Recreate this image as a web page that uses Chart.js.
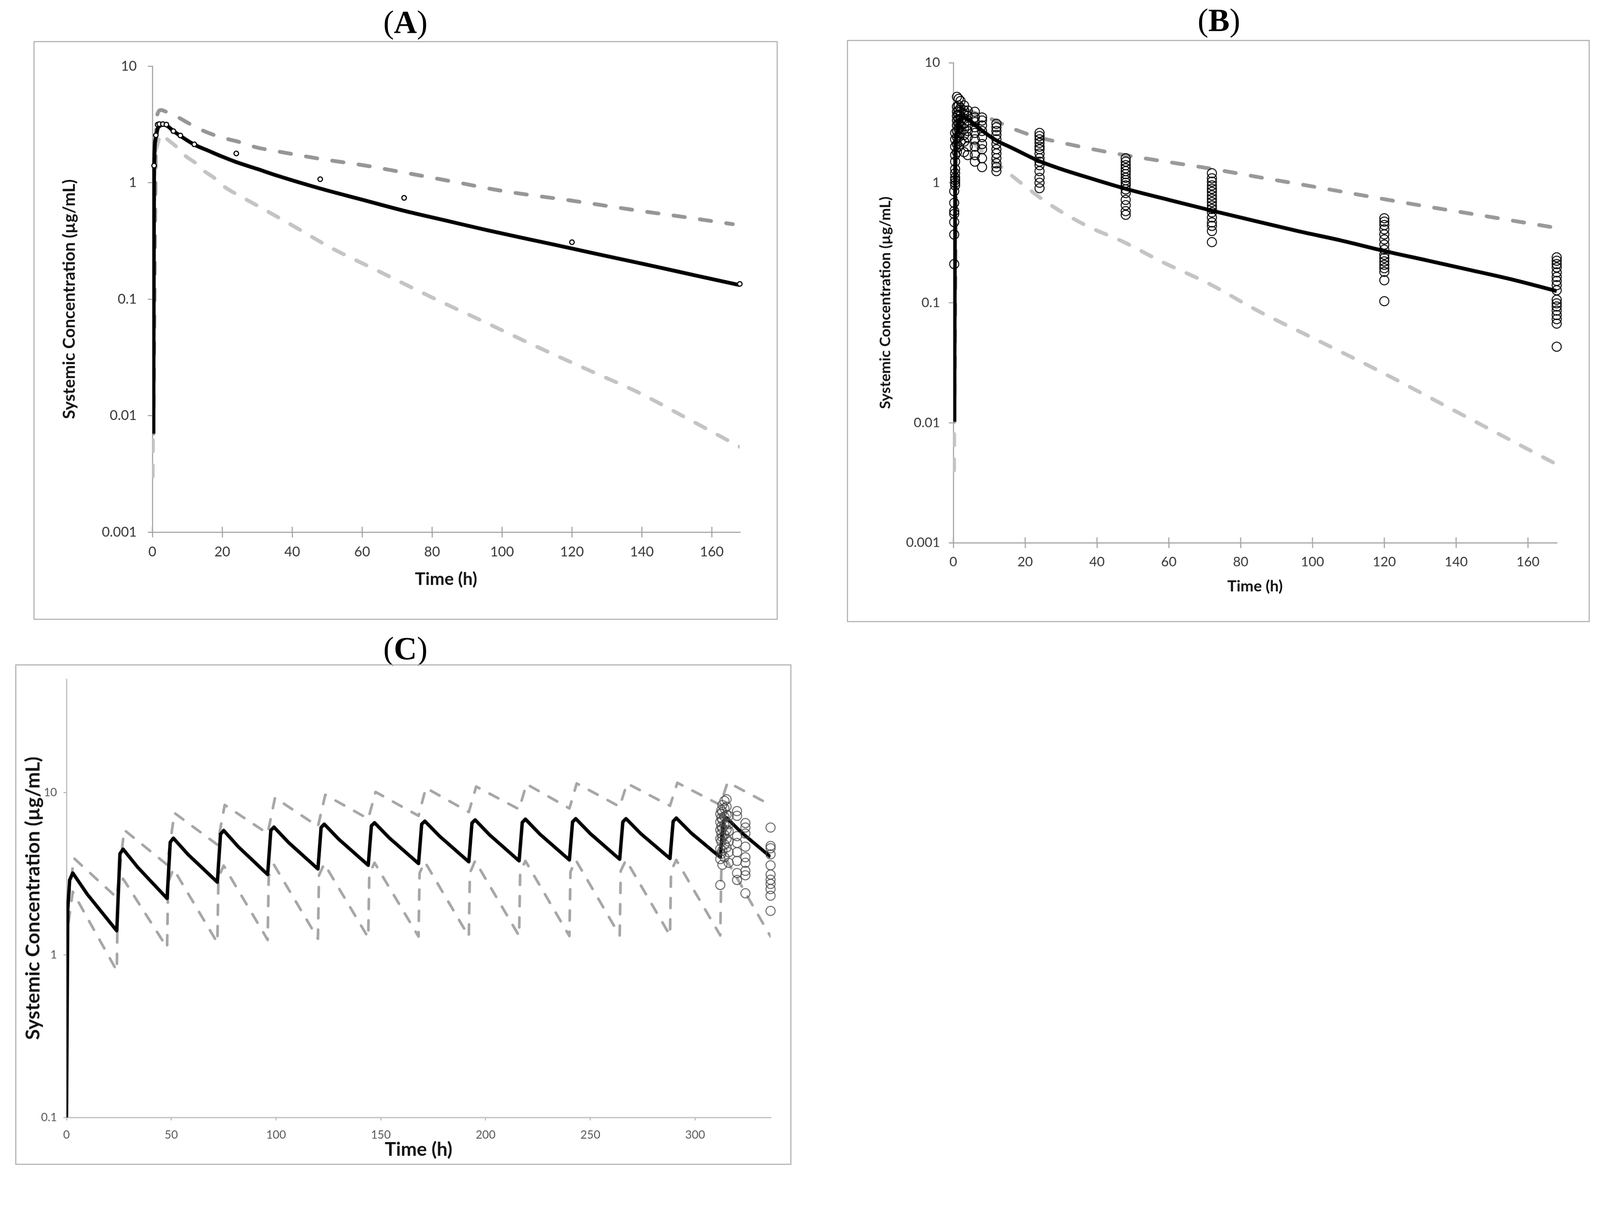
<!DOCTYPE html>
<html>
<head>
<meta charset="utf-8">
<script src="https://cdn.jsdelivr.net/npm/chart.js@4.4.1/dist/chart.umd.min.js"></script>
<style>
html, body { margin: 0; background: #fff; overflow: hidden; }
#page { position: absolute; left: 0; top: 0; width: 4211px; height: 3107px; transform-origin: 0 0; }
.box { position: absolute; border: 3px solid #b4b4b4; box-sizing: border-box; }
canvas { position: absolute; }
.ttl { position: absolute; font-family: "Liberation Serif", serif; font-size: 84px; transform: translate(-50%, -50%); white-space: nowrap; color: #000; }
</style>
</head>
<body>
<div id="page">
<div class="ttl" style="left:1067px;top:58px">(<b>A</b>)</div>
<div class="ttl" style="left:3208px;top:53px">(<b>B</b>)</div>
<div class="ttl" style="left:1067px;top:1706px">(<b>C</b>)</div>
<div class="box" style="left:88px;top:108px;width:1959px;height:1523px"></div>
<div class="box" style="left:2229px;top:105px;width:1955px;height:1532px"></div>
<div class="box" style="left:40px;top:1748px;width:2043px;height:1317px"></div>
<canvas id="cA" width="1959" height="1523" style="left:88px;top:108px"></canvas>
<canvas id="cB" width="1955" height="1532" style="left:2229px;top:105px"></canvas>
<canvas id="cC" width="2043" height="1317" style="left:40px;top:1748px"></canvas>
</div>
<script>
// ticks
const abXTicks = [0, 20, 40, 60, 80, 100, 120, 140, 160];
const abYTicks = [0.001, 0.01, 0.1, 1, 10];
const cXTicks = [0, 50, 100, 150, 200, 250, 300];
const cYTicks = [0.1, 1, 10];

// (A) single dose
const aMeanT = [0.3, 0.5, 1, 1.5, 2, 3, 4, 6, 8, 12, 16, 20, 24, 30, 36, 48, 60, 72, 84, 96, 108, 120, 132, 144, 156, 168];
const aMeanC = [0.007, 1.3, 2.45, 2.9, 3.05, 3.15, 3.1, 2.78, 2.52, 2.12, 1.88, 1.67, 1.5, 1.31, 1.14, 0.89, 0.714, 0.573, 0.472, 0.389, 0.325, 0.272, 0.227, 0.19, 0.158, 0.132];
const aUpperT = [0.3, 1.2, 2.5, 4, 6.5, 10, 13, 16.5, 20, 24, 30, 36, 48, 61, 72, 86, 100, 120, 139, 152, 166];
const aUpperC = [0.007, 3.6, 4.2, 4.05, 3.76, 3.28, 2.93, 2.64, 2.43, 2.27, 2.0, 1.85, 1.6, 1.4, 1.22, 1.02, 0.85, 0.7, 0.575, 0.507, 0.44];
const aLowerT = [0.1, 0.6, 1.2, 2.5, 4, 7.3, 9.3, 12.4, 14.5, 17.8, 20, 22.7, 26, 30, 40, 51, 65, 80.5, 95, 110, 125, 139, 152, 168];
const aLowerC = [0.003, 1.2, 2.0, 2.6, 2.39, 1.98, 1.71, 1.47, 1.28, 1.09, 0.95, 0.84, 0.74, 0.635, 0.43, 0.277, 0.172, 0.1016, 0.0636, 0.039, 0.0244, 0.0158, 0.0098, 0.0054];
const aObsT = [0.5, 1, 1.5, 2, 3, 4, 6, 8, 12, 24, 48, 72, 120, 168];
const aObsC = [1.4, 2.55, 3.15, 3.18, 3.18, 3.15, 2.77, 2.54, 2.13, 1.78, 1.07, 0.74, 0.308, 0.135];

// (B) single dose, individual observations
const bMeanT = [0.3, 0.5, 1, 1.5, 2, 3, 4, 6, 8, 12, 16, 20, 24, 30, 36, 48, 60, 72, 84, 96, 108, 120, 132, 144, 156, 168];
const bMeanC = [0.0102, 1.2, 2.6, 3.2, 3.45, 3.5, 3.4, 3.05, 2.72, 2.25, 1.97, 1.72, 1.51, 1.3, 1.14, 0.89, 0.72, 0.585, 0.48, 0.395, 0.33, 0.27, 0.225, 0.187, 0.155, 0.125];
const bUpperT = [0.3, 1, 2.5, 5, 10.5, 17.3, 23, 30, 43, 56, 71, 86, 101, 118, 131, 146, 168];
const bUpperC = [0.0102, 3.3, 4.1, 3.9, 3.4, 2.77, 2.42, 2.16, 1.8, 1.55, 1.32, 1.1, 0.92, 0.747, 0.64, 0.54, 0.42];
const bLowerT = [0.2, 0.6, 1.5, 3, 6, 9, 13, 17, 26.5, 37, 47.5, 58, 71, 85, 100, 119, 140, 168];
const bLowerC = [0.004, 1.0, 2.2, 2.5, 2.1, 1.7, 1.38, 1.1, 0.67, 0.44, 0.32, 0.22, 0.145, 0.085, 0.051, 0.0266, 0.0124, 0.0045];
const bObsTimes = [0.25, 0.5, 1, 1.5, 2, 3, 4, 6, 8, 12, 24, 48, 72, 120, 168];
const bObsValues = [
  [0.21, 0.37, 0.47, 0.55, 0.58, 0.68, 0.85],
  [0.95, 1.0, 1.05, 1.1, 1.2, 1.3, 1.5, 1.7, 2.0, 2.3, 2.6],
  [1.8, 2.1, 2.4, 2.7, 3.0, 3.3, 3.6, 3.9, 4.3, 5.2],
  [2.0, 2.4, 2.8, 3.1, 3.4, 3.7, 4.0, 4.4, 5.0],
  [2.2, 2.6, 3.0, 3.3, 3.6, 3.9, 4.2, 4.8],
  [1.8, 2.2, 2.5, 2.8, 3.1, 3.4, 3.7, 4.0, 4.4],
  [1.7, 2.0, 2.4, 2.7, 3.0, 3.3, 3.6, 4.0],
  [1.5, 1.7, 2.0, 2.3, 2.6, 2.9, 3.2, 3.5, 3.9],
  [1.35, 1.6, 1.9, 2.1, 2.4, 2.7, 3.0, 3.3, 3.5],
  [1.25, 1.35, 1.45, 1.6, 1.75, 1.9, 2.1, 2.3, 2.5, 2.7, 2.9, 3.1],
  [0.9, 1.0, 1.1, 1.25, 1.4, 1.5, 1.6, 1.75, 1.9, 2.0, 2.15, 2.3, 2.45, 2.6],
  [0.54, 0.58, 0.65, 0.72, 0.82, 0.88, 0.95, 1.0, 1.05, 1.1, 1.18, 1.25, 1.32, 1.4, 1.5, 1.6],
  [0.32, 0.396, 0.437, 0.467, 0.514, 0.567, 0.605, 0.645, 0.69, 0.735, 0.785, 0.84, 0.89, 0.95, 1.02, 1.09, 1.2],
  [0.103, 0.154, 0.181, 0.194, 0.207, 0.221, 0.236, 0.251, 0.277, 0.305, 0.337, 0.371, 0.409, 0.444, 0.474, 0.506],
  [0.043, 0.067, 0.073, 0.079, 0.086, 0.093, 0.099, 0.106, 0.127, 0.14, 0.152, 0.164, 0.179, 0.197, 0.21, 0.224, 0.239]
];

// (C) multiple dosing every 24 h
const cMeanT = [0, 0.6, 1.5, 3, 10,
  24, 25.5, 27, 34, 48, 49.5, 51, 58, 72, 73.5, 75, 82, 96, 97.5, 99, 106,
  120, 121.5, 123, 130, 144, 145.5, 147, 154, 168, 169.5, 171, 178, 192, 193.5, 195, 202,
  216, 217.5, 219, 226, 240, 241.5, 243, 250, 264, 265.5, 267, 274, 288, 289.5, 291, 298,
  312, 313.5, 315, 322, 336];
const cMeanC = [0.1, 1.9, 2.9, 3.2, 2.36,
  1.41, 4.2, 4.49, 3.47, 2.23, 4.95, 5.25, 4.16, 2.81, 5.55, 5.85, 4.64, 3.13, 5.85, 6.14, 4.93,
  3.39, 6.1, 6.4, 5.16, 3.57, 6.25, 6.53, 5.27, 3.66, 6.4, 6.68, 5.4, 3.75, 6.5, 6.8, 5.48,
  3.8, 6.55, 6.87, 5.54, 3.85, 6.6, 6.92, 5.59, 3.89, 6.6, 6.92, 5.6, 3.93, 6.65, 6.98, 5.66,
  4.0, 6.7, 7.0, 5.7, 4.02];
const cUpperT = [1, 3.5, 24, 27.5, 48, 51.5, 72, 75.5, 96, 99.5, 120, 123.5, 144, 147.5, 168, 171.5,
  192, 195.5, 216, 219.5, 240, 243.5, 264, 267.5, 288, 291.5, 312, 315.5, 336];
const cUpperC = [2.2, 3.95, 2.26, 5.9, 3.6, 7.5, 4.78, 8.4, 5.6, 9.3, 6.2, 9.7, 6.9, 10.1, 7.2, 10.7,
  7.6, 10.9, 7.9, 11.3, 8.0, 11.4, 8.2, 11.4, 8.3, 11.5, 8.4, 11.6, 8.4];
const cLowerT = [1, 3, 24, 24.5, 27, 48, 48.5, 51, 72, 72.5, 75, 96, 96.5, 99, 120, 120.5, 123,
  144, 144.5, 147, 168, 168.5, 171, 192, 192.5, 195, 216, 216.5, 219, 240, 240.5, 243,
  264, 264.5, 267, 288, 288.5, 291, 312, 312.5, 315, 336];
const cLowerC = [1.6, 2.45, 0.8, 2.4, 2.95, 1.11, 2.8, 3.4, 1.19, 3.0, 3.55, 1.24, 3.05, 3.6, 1.26, 3.1, 3.65,
  1.28, 3.15, 3.7, 1.3, 3.2, 3.75, 1.3, 3.2, 3.8, 1.31, 3.25, 3.8, 1.31, 3.25, 3.85,
  1.32, 3.3, 3.85, 1.32, 3.3, 3.85, 1.32, 3.3, 3.85, 1.3];
const cObsTimes = [312, 312.5, 313, 314, 315, 316, 320, 324, 336];
const cObsValues = [
  [2.7, 3.9, 4.5, 5.2, 5.9, 6.6, 7.4],
  [4.2, 5.0, 5.6, 6.2, 7.0, 7.8],
  [3.6, 4.4, 5.3, 6.0, 6.8, 7.6, 8.4],
  [4.0, 4.8, 5.5, 6.3, 7.1, 8.0, 8.9],
  [4.6, 5.2, 5.9, 6.5, 7.3, 8.2, 9.1],
  [3.7, 4.3, 5.0, 5.8, 6.4, 7.2],
  [2.9, 3.2, 3.8, 4.3, 4.9, 5.4, 7.2, 7.7],
  [2.4, 3.1, 3.3, 3.7, 4.0, 4.65, 5.6, 6.1, 6.5],
  [1.87, 2.32, 2.55, 2.74, 2.91, 3.13, 3.57, 4.17, 4.55, 4.7, 6.1]
];

// the layout is drawn for 4211 px wide; shrink it to the real viewport
document.getElementById("page").style.transform = `scale(${window.innerWidth / 4211})`;

Chart.defaults.font.family = "Lato";
Chart.defaults.animation = false;

const pts = (t, c) => t.map((x, i) => ({ x, y: c[i] }));
const flat = (times, groups) => times.flatMap((t, i) => groups[i].map(v => ({ x: t, y: v })));

const line = (data, color, width, dash, extra) => Object.assign({
  data, showLine: true, pointRadius: 0, borderColor: color, borderWidth: width,
  borderDash: dash || [], borderCapStyle: dash ? "round" : "butt", borderJoinStyle: "round", tension: 0
}, extra);

const obs = (data, r, bw, color, fill) => ({
  data, showLine: false, pointRadius: r, pointBorderWidth: bw,
  pointBorderColor: color, pointBackgroundColor: fill, order: 0, clip: false
});

// excel-style x tick marks that cross the axis line
const crossTicks = {
  id: "crossTicks",
  afterDraw(chart, args, opts) {
    if (!opts.len) return;
    const { ctx } = chart, x = chart.scales.x;
    ctx.save();
    ctx.strokeStyle = opts.color;
    ctx.lineWidth = 3;
    x.ticks.forEach(t => {
      const px = x.getPixelForValue(t.value);
      ctx.beginPath();
      ctx.moveTo(px, x.top - opts.len);
      ctx.lineTo(px, x.top);
      ctx.stroke();
    });
    ctx.restore();
  }
};

function panel(id, g) {
  const axisGrid = len => ({ drawOnChartArea: false, drawTicks: true, tickLength: len, color: g.axis, lineWidth: 3 });
  return new Chart(document.getElementById(id), {
    type: "scatter",
    data: { datasets: g.datasets },
    plugins: [crossTicks],
    options: {
      responsive: false,
      devicePixelRatio: 1,
      layout: { padding: { left: 0, top: g.top, right: g.right, bottom: 0 } },
      plugins: { legend: { display: false }, tooltip: { enabled: false }, crossTicks: { len: g.xUp, color: g.axis } },
      scales: {
        x: {
          type: "linear", min: 0, max: g.xMax,
          afterBuildTicks: s => { s.ticks = g.xTicks.map(v => ({ value: v })); },
          afterFit: s => { s.height = g.xH; },
          ticks: { font: { size: g.tickSize }, color: g.tickColor, padding: g.xPad, maxRotation: 0 },
          grid: axisGrid(g.xTick),
          border: { color: g.axis, width: 3 },
          title: { display: true, text: "Time (h)", color: "#111",
            font: { size: g.xTitleSize, weight: "bold" }, padding: { top: 0, bottom: g.xTitlePad } }
        },
        y: {
          type: "logarithmic", min: g.yMin, max: g.yMax,
          afterBuildTicks: s => { s.ticks = g.yTicks.map(v => ({ value: v })); },
          afterFit: s => { s.width = g.yW; },
          ticks: { callback: v => String(v), font: { size: g.tickSize }, color: g.tickColor, padding: g.yPad },
          grid: axisGrid(g.yTick),
          border: { color: g.axis, width: 3 },
          title: { display: true, text: "Systemic Concentration (µg/mL)", color: "#111",
            font: { size: g.yTitleSize, weight: "bold" }, padding: { top: g.yTitlePad, bottom: 0 } }
        }
      }
    }
  });
}

panel("cA", {
  top: 66, right: 100, xH: 231, yW: 313, xMax: 168, yMin: 0.001, yMax: 10,
  xTicks: abXTicks, yTicks: abYTicks, axis: "#a6a6a6", tickColor: "#333", tickSize: 36,
  xPad: 17, yPad: 29, xTick: 14, xUp: 14, yTick: 12, xTitleSize: 46, xTitlePad: 79, yTitleSize: 44, yTitlePad: 68,
  datasets: [
    obs(pts(aObsT, aObsC), 6, 3, "#000", "#fff"),
    line(pts(aMeanT, aMeanC), "#000", 10, null, { order: 1, cubicInterpolationMode: "monotone" }),
    line(pts(aUpperT, aUpperC), "#969696", 10, [30, 40], { order: 2, cubicInterpolationMode: "monotone" }),
    line(pts(aLowerT, aLowerC), "#c4c4c4", 10, [30, 36], { order: 3, cubicInterpolationMode: "monotone" })
  ]
});

panel("cB", {
  top: 60, right: 87, xH: 209, yW: 280, xMax: 168, yMin: 0.001, yMax: 10,
  xTicks: abXTicks, yTicks: abYTicks, axis: "#a6a6a6", tickColor: "#333", tickSize: 35,
  xPad: 16, yPad: 23, xTick: 14, xUp: 14, yTick: 12, xTitleSize: 41, xTitlePad: 70, yTitleSize: 39, yTitlePad: 78,
  datasets: [
    obs(flat(bObsTimes, bObsValues), 12, 2.5, "#000", "rgba(0,0,0,0)"),
    line(pts(bMeanT, bMeanC), "#000", 10, null, { order: 1, cubicInterpolationMode: "monotone" }),
    line(pts(bUpperT, bUpperC), "#999", 10, [30, 40], { order: 2, cubicInterpolationMode: "monotone" }),
    line(pts(bLowerT, bLowerC), "#c4c4c4", 10, [30, 36], { order: 3, cubicInterpolationMode: "monotone" })
  ]
});

panel("cC", {
  top: 39, right: 55, xH: 125, yW: 135, xMax: 336, yMin: 0.1, yMax: 50,
  xTicks: cXTicks, yTicks: cYTicks, axis: "#bdbdbd", tickColor: "#555", tickSize: 30,
  xPad: 20, yPad: 17, xTick: 8, xUp: 0, yTick: 8, xTitleSize: 50, xTitlePad: 10, yTitleSize: 52, yTitlePad: 16,
  datasets: [
    obs(flat(cObsTimes, cObsValues), 12, 2.5, "rgba(70,70,70,0.85)", "rgba(0,0,0,0)"),
    line(pts(cMeanT, cMeanC), "#000", 9, null, { order: 1 }),
    line(pts(cUpperT, cUpperC), "#a6a6a6", 7, [26, 30], { order: 2 }),
    line(pts(cLowerT, cLowerC), "#a6a6a6", 7, [26, 30], { order: 3 })
  ]
});
</script>
</body>
</html>
